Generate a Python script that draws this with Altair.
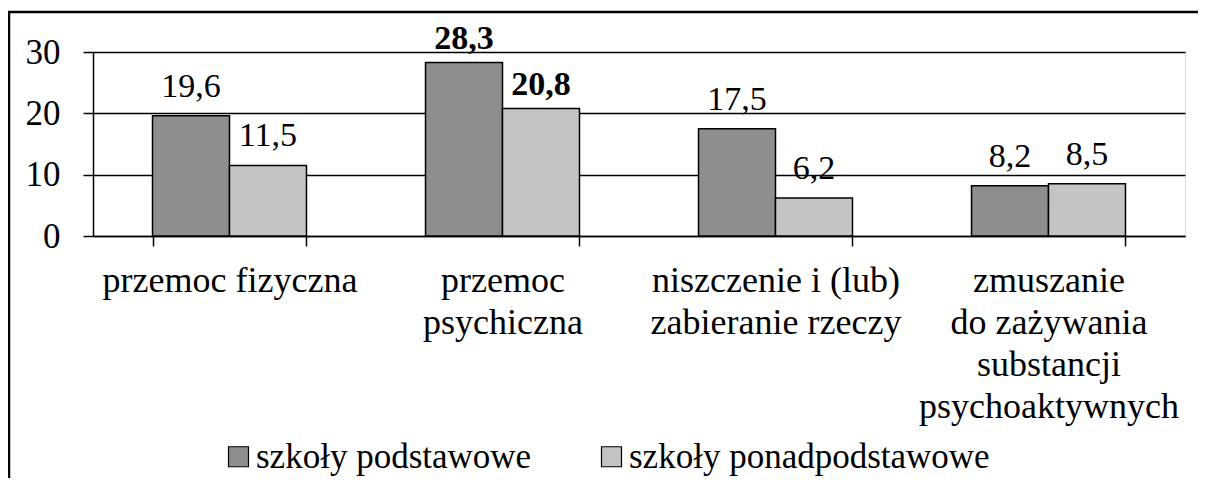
import altair as alt
import pandas as pd

categories = [
    "przemoc fizyczna",
    "przemoc\npsychiczna",
    "niszczenie i (lub)\nzabieranie rzeczy",
    "zmuszanie\ndo zażywania\nsubstancji\npsychoaktywnych",
]
series = ["szkoły podstawowe", "szkoły ponadpodstawowe"]
podstawowe = [19.6, 28.3, 17.5, 8.2]
ponadpodstawowe = [11.5, 20.8, 6.2, 8.5]
bold_category = "przemoc\npsychiczna"
y_ticks = [0, 10, 20, 30]

rows = []
for c, v in zip(categories, podstawowe):
    rows.append({"kategoria": c, "seria": series[0], "wartosc": v})
for c, v in zip(categories, ponadpodstawowe):
    rows.append({"kategoria": c, "seria": series[1], "wartosc": v})
df = pd.DataFrame(rows)

FONT = "'Liberation Serif', 'Times New Roman', 'DejaVu Serif', serif"

x_enc = alt.X(
    "kategoria:N",
    sort=categories,
    scale=alt.Scale(paddingInner=0.436, paddingOuter=0.218),
    axis=alt.Axis(
        title=None,
        tickBand="extent",
        labelAngle=0,
        labelExpr="split(datum.label, '\\n')",
        labelFontSize=36,
        labelLineHeight=42,
        labelPadding=17,
        labelBaseline="top",
        labelLimit=500,
        labelColor="black",
        labelFont=FONT,
        tickSize=10,
        tickColor="black",
        tickWidth=1.5,
        domainColor="black",
        domainWidth=1.5,
        grid=False,
    ),
)
xoff = alt.XOffset("seria:N", sort=series, scale=alt.Scale(paddingInner=0, paddingOuter=0))

y_enc = alt.Y(
    "wartosc:Q",
    scale=alt.Scale(domain=[0, 30], nice=False),
    axis=alt.Axis(
        title=None,
        values=y_ticks,
        grid=True,
        gridColor="black",
        gridWidth=1.5,
        gridOpacity=1,
        tickSize=10,
        tickColor="black",
        tickWidth=1.5,
        domainColor="black",
        domainWidth=1.5,
        labelFontSize=35,
        labelPadding=23,
        labelColor="black",
        labelFont=FONT,
    ),
)

base = alt.Chart(df)

bars = base.mark_bar(stroke="black", strokeWidth=1.5).encode(
    x=x_enc,
    xOffset=xoff,
    y=y_enc,
    fill=alt.Fill(
        "seria:N",
        sort=series,
        scale=alt.Scale(domain=series, range=["#8e8e8e", "#c4c4c4"]),
        legend=alt.Legend(
            title=None,
            orient="none",
            direction="horizontal",
            legendX=128,
            legendY=387,
            symbolType="square",
            symbolSize=400,
            symbolStrokeColor="black",
            symbolStrokeWidth=1.2,
            labelFontSize=35,
            labelFont=FONT,
            labelColor="black",
            labelOffset=0,
            columnPadding=62,
            labelLimit=600,
        ),
    ),
)

label_base = base.transform_calculate(
    etykieta="replace(format(datum.wartosc, '.1f'), '.', ',')"
)
label_enc = dict(
    x=alt.X("kategoria:N", sort=categories),
    xOffset=xoff,
    y=alt.Y("wartosc:Q"),
    text="etykieta:N",
)
labels_normal = label_base.transform_filter(
    alt.datum.kategoria != bold_category
).mark_text(fontSize=34, font=FONT, dy=-19, baseline="alphabetic", color="black").encode(**label_enc)
labels_bold = label_base.transform_filter(
    alt.datum.kategoria == bold_category
).mark_text(fontSize=34, font=FONT, fontWeight="bold", dy=-13, baseline="alphabetic", color="black").encode(**label_enc)

frame = alt.Chart(pd.DataFrame({"f": [0]})).mark_rect(
    fill="transparent", stroke="black", strokeWidth=2.5
).encode(
    x=alt.value(-84), x2=alt.value(1117), y=alt.value(-40), y2=alt.value(438)
)

chart = (
    alt.layer(bars, labels_normal, labels_bold, frame)
    .properties(
        width=1092,
        height=184,
        padding={"left": 85, "top": 44, "right": 13, "bottom": 242},
        autosize=alt.AutoSizeParams(type="none"),
    )
    .configure_view(stroke="transparent")
    .configure(font=FONT)
)

chart.save("out.html", embed_options={"renderer": "svg", "actions": False})
